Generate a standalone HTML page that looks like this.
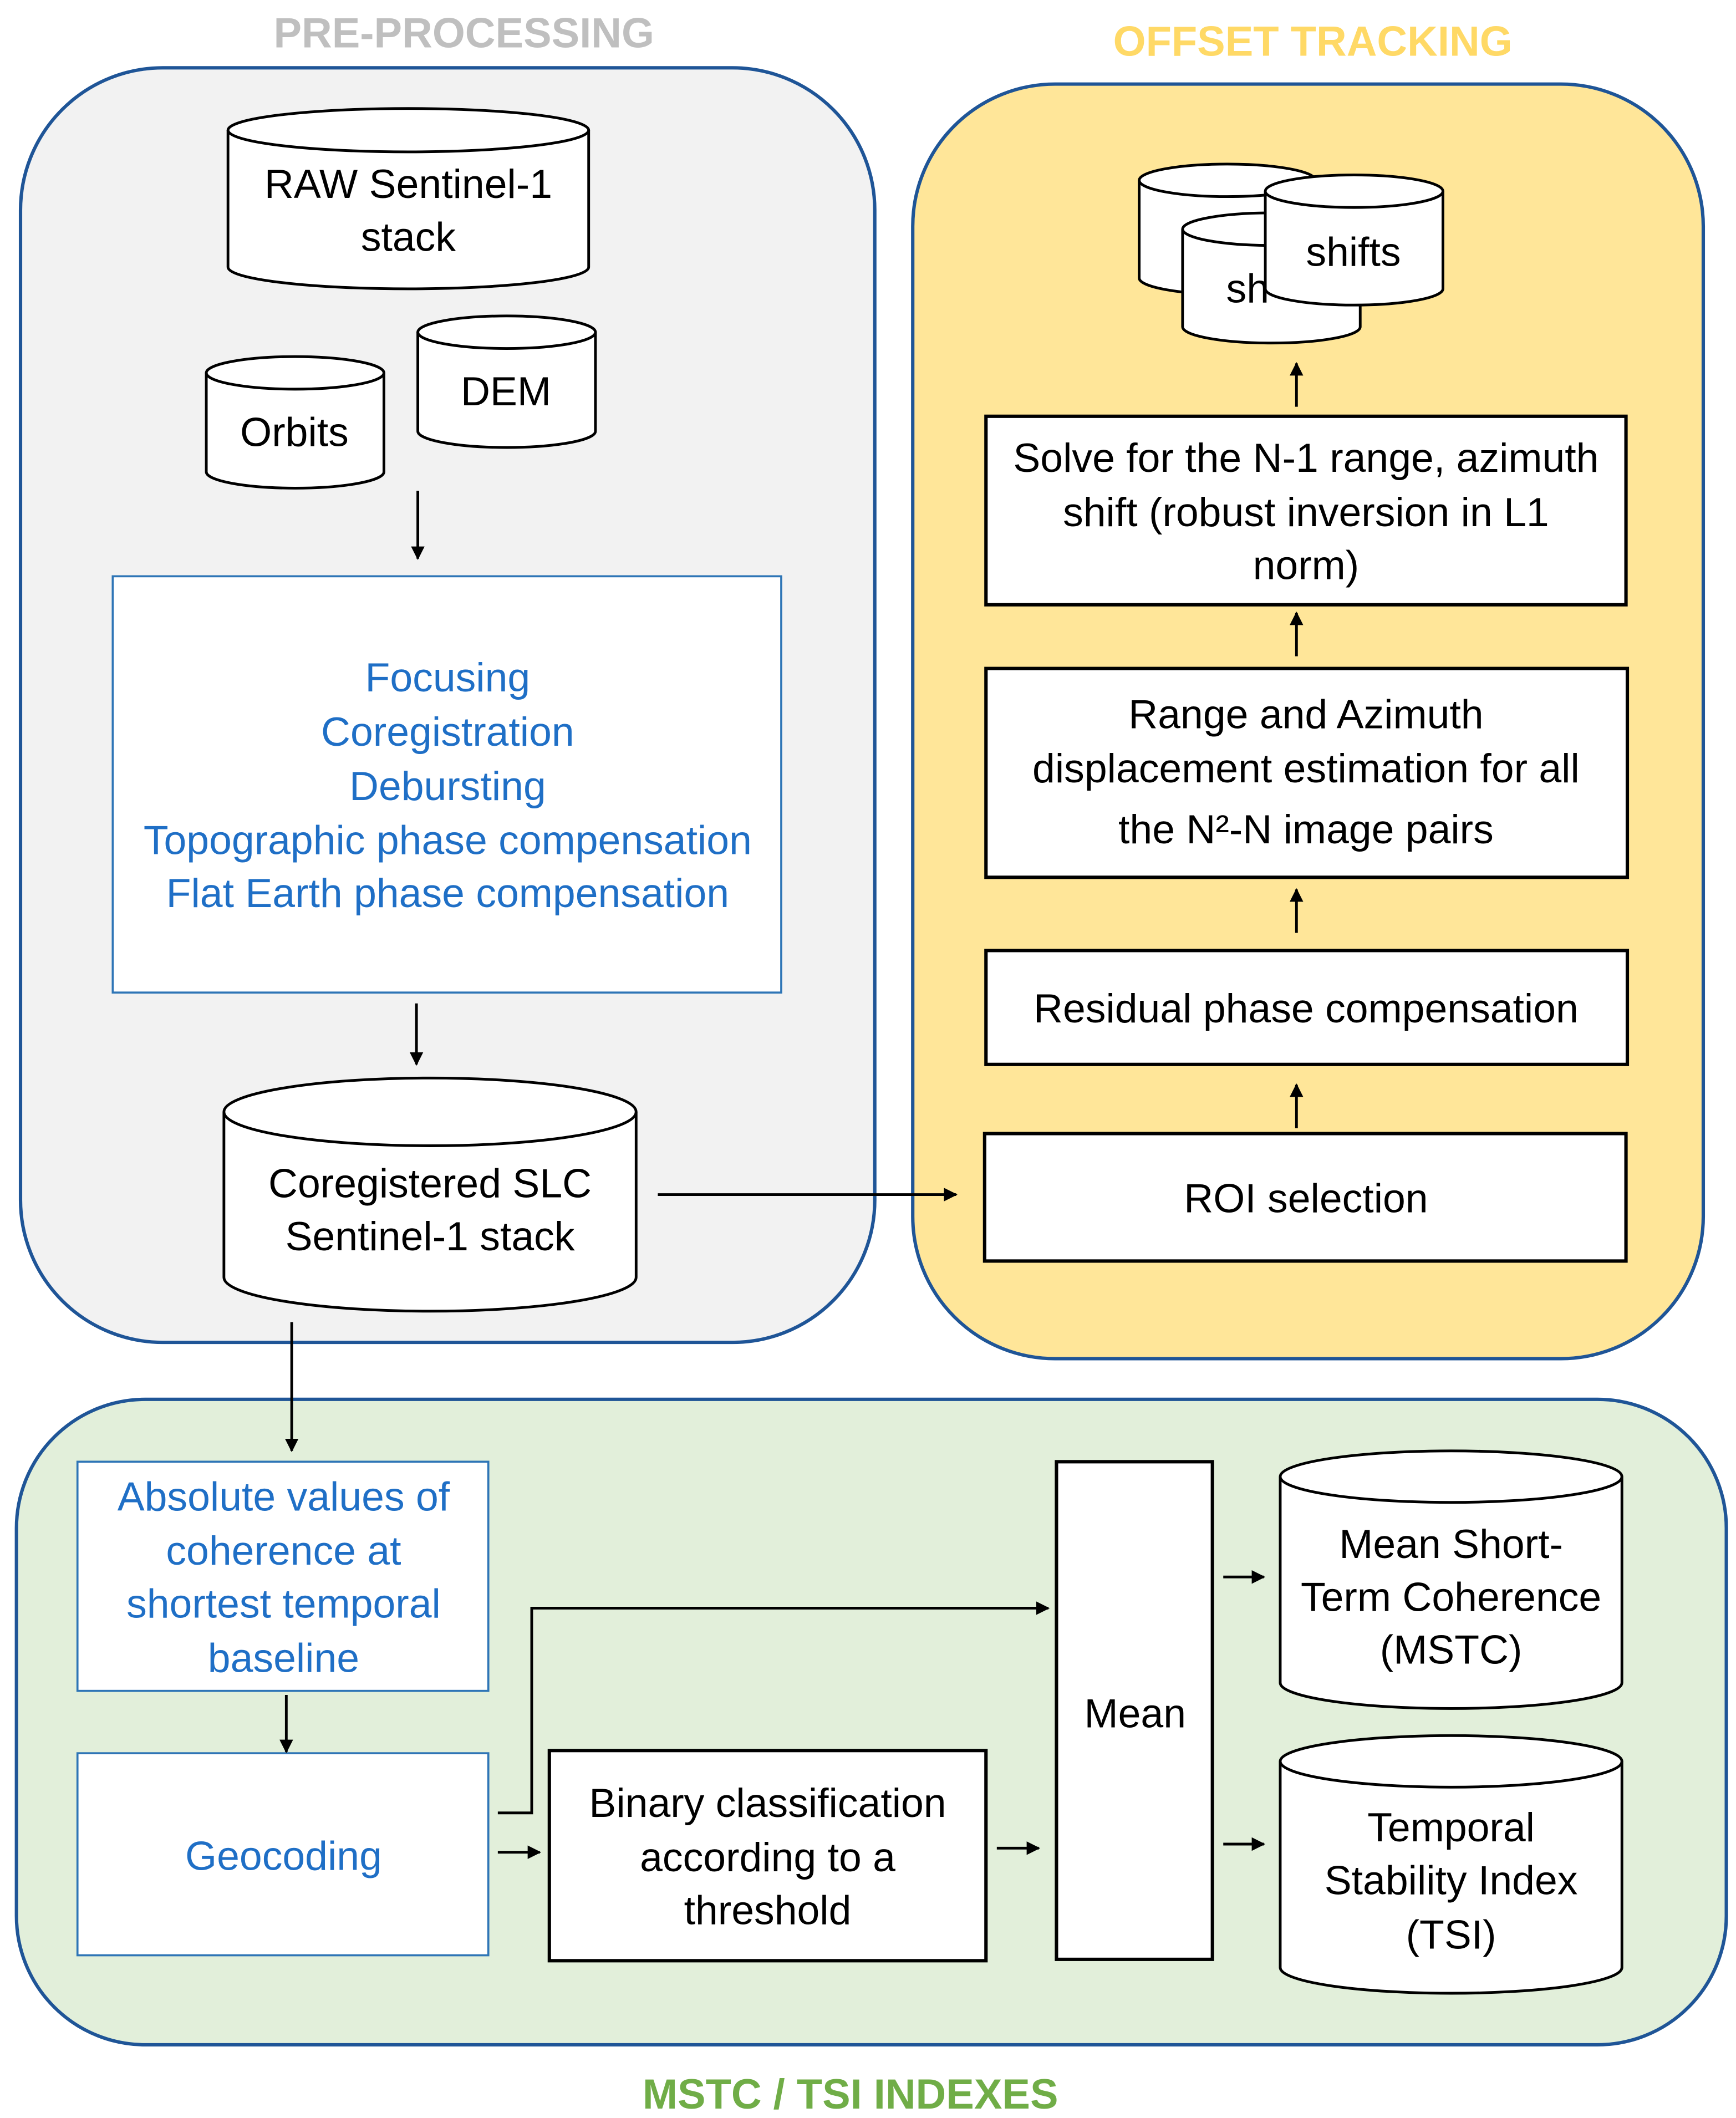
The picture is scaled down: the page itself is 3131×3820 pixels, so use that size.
<!DOCTYPE html>
<html><head><meta charset="utf-8"><style>
html,body{margin:0;padding:0;background:#fff;}
svg{display:block;}
text{font-family:"Liberation Sans",sans-serif;}
</style></head><body>
<svg width="3131" height="3820" viewBox="0 0 1280 1562" xmlns="http://www.w3.org/2000/svg">
<defs>
<marker id="a" viewBox="0 0 10 10" refX="9" refY="5" markerWidth="5" markerHeight="5" orient="auto"><path d="M0,0 L10,5 L0,10 Z" fill="#000"/></marker>
</defs>
<rect width="1280" height="1562" fill="#fff"/>
<rect x="15" y="50" width="630" height="940" rx="105" fill="#f2f2f2" stroke="#1f5597" stroke-width="2.5"/>
<rect x="673" y="62" width="583" height="940" rx="105" fill="#ffe699" stroke="#1f5597" stroke-width="2.5"/>
<rect x="12" y="1032" width="1261" height="476" rx="95" fill="#e2efda" stroke="#1f5597" stroke-width="2.5"/>
<g font-weight="bold" font-size="31" text-anchor="middle">
<text x="342" y="35" fill="#bfbfbf">PRE-PROCESSING</text>
<text x="968" y="41" fill="#ffd966">OFFSET TRACKING</text>
<text x="627" y="1555" fill="#70ad47">MSTC / TSI INDEXES</text>
</g>
<g fill="#fff" stroke="#000" stroke-width="2">
<path d="M168,96 A133,16 0 0 1 434,96 V197 A133,16 0 0 1 168,197 Z"/><path d="M168,96 A133,16 0 0 0 434,96" fill="none"/>
<path d="M152,275 A65.5,12 0 0 1 283,275 V348 A65.5,12 0 0 1 152,348 Z"/><path d="M152,275 A65.5,12 0 0 0 283,275" fill="none"/>
<path d="M308,245 A65.5,12 0 0 1 439,245 V318 A65.5,12 0 0 1 308,318 Z"/><path d="M308,245 A65.5,12 0 0 0 439,245" fill="none"/>
<path d="M165,820 A152,25 0 0 1 469,820 V942 A152,25 0 0 1 165,942 Z"/><path d="M165,820 A152,25 0 0 0 469,820" fill="none"/>
<path d="M840,133 A65,12 0 0 1 970,133 V205 A65,12 0 0 1 840,205 Z"/><path d="M840,133 A65,12 0 0 0 970,133" fill="none"/>
<path d="M872,169 A65.5,12 0 0 1 1003,169 V241 A65.5,12 0 0 1 872,241 Z"/><path d="M872,169 A65.5,12 0 0 0 1003,169" fill="none"/>
<path d="M933,141 A65.5,12 0 0 1 1064,141 V213 A65.5,12 0 0 1 933,213 Z"/><path d="M933,141 A65.5,12 0 0 0 1064,141" fill="none"/>
<path d="M944,1089 A126,19 0 0 1 1196,1089 V1241 A126,19 0 0 1 944,1241 Z"/><path d="M944,1089 A126,19 0 0 0 1196,1089" fill="none"/>
<path d="M944,1299 A126,19 0 0 1 1196,1299 V1451 A126,19 0 0 1 944,1451 Z"/><path d="M944,1299 A126,19 0 0 0 1196,1299" fill="none"/>
</g>
<g fill="#fff" stroke="#2e75b6" stroke-width="1.5">
<rect x="83" y="425" width="493" height="307"/>
<rect x="57" y="1078" width="303" height="169"/>
<rect x="57" y="1293" width="303" height="149"/>
</g>
<g fill="#fff" stroke="#000" stroke-width="2.5">
<rect x="727" y="307" width="472" height="139"/>
<rect x="727" y="493" width="473" height="154"/>
<rect x="727" y="701" width="473" height="84"/>
<rect x="726" y="836" width="473" height="94"/>
<rect x="405" y="1291" width="322" height="155"/>
<rect x="779" y="1078" width="115" height="367"/>
</g>
<g font-size="30" text-anchor="middle" fill="#000">
<text x="301" y="146">RAW Sentinel-1</text><text x="301" y="185">stack</text>
<text x="217" y="329">Orbits</text>
<text x="373" y="299">DEM</text>
<text x="317" y="883">Coregistered SLC</text><text x="317" y="922">Sentinel-1 stack</text>
<text x="920" y="223">sh</text>
<text x="998" y="196">shifts</text>
<text x="963" y="348">Solve for the N-1 range, azimuth</text>
<text x="963" y="388">shift (robust inversion in L1</text>
<text x="963" y="427">norm)</text>
<text x="963" y="537">Range and Azimuth</text>
<text x="963" y="577">displacement estimation for all</text>
<text x="963" y="622">the N²-N image pairs</text>
<text x="963" y="754">Residual phase compensation</text>
<text x="963" y="894">ROI selection</text>
<text x="566" y="1340">Binary classification</text>
<text x="566" y="1380">according to a</text>
<text x="566" y="1419">threshold</text>
<text x="837" y="1274">Mean</text>
<text x="1070" y="1149">Mean Short-</text><text x="1070" y="1188">Term Coherence</text><text x="1070" y="1227">(MSTC)</text>
<text x="1070" y="1358">Temporal</text><text x="1070" y="1397">Stability Index</text><text x="1070" y="1437">(TSI)</text>
</g>
<g font-size="30" text-anchor="middle" fill="#1f6fc6">
<text x="330" y="510">Focusing</text>
<text x="330" y="550">Coregistration</text>
<text x="330" y="590">Debursting</text>
<text x="330" y="630">Topographic phase compensation</text>
<text x="330" y="669">Flat Earth phase compensation</text>
<text x="209" y="1114">Absolute values of</text>
<text x="209" y="1154">coherence at</text>
<text x="209" y="1193">shortest temporal</text>
<text x="209" y="1233">baseline</text>
<text x="209" y="1379">Geocoding</text>
</g>
<g stroke="#000" stroke-width="2" fill="none" marker-end="url(#a)">
<line x1="308" y1="362" x2="308" y2="412"/>
<line x1="307" y1="740" x2="307" y2="785"/>
<line x1="485" y1="881" x2="705" y2="881"/>
<line x1="215" y1="975" x2="215" y2="1070"/>
<line x1="211" y1="1250" x2="211" y2="1292"/>
<line x1="367" y1="1366" x2="398" y2="1366"/>
<line x1="735" y1="1363" x2="766" y2="1363"/>
<polyline points="367,1337 392,1337 392,1186 773,1186"/>
<line x1="902" y1="1163" x2="932" y2="1163"/>
<line x1="902" y1="1360" x2="932" y2="1360"/>
<line x1="956" y1="832" x2="956" y2="800"/>
<line x1="956" y1="688" x2="956" y2="656"/>
<line x1="956" y1="484" x2="956" y2="452"/>
<line x1="956" y1="300" x2="956" y2="268"/>
</g>
</svg>
</body></html>
